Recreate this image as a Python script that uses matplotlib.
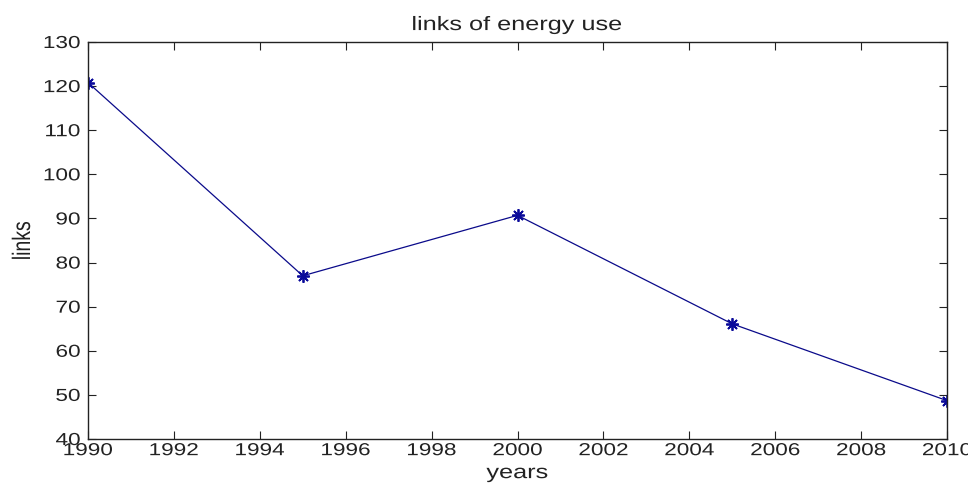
import matplotlib
matplotlib.use("Agg")
import numpy as np
import matplotlib.pyplot as plt
from matplotlib.patheffects import AbstractPathEffect
from matplotlib.transforms import Affine2D
from matplotlib.path import Path

years = [1990, 1995, 2000, 2005, 2010]
links = [120.8, 77.0, 90.7, 66.1, 48.7]
xticks = list(range(1990, 2011, 2))
yticks = list(range(40, 131, 10))


class StretchX(AbstractPathEffect):
    def __init__(self, sx=1.3, anchor='center'):
        super().__init__()
        self.sx = sx
        self.anchor = anchor

    def draw_path(self, renderer, gc, tpath, affine, rgbFace=None):
        v = tpath.vertices
        if tpath.codes is not None:
            v = v[tpath.codes != Path.CLOSEPOLY]
        if len(v) == 0:
            return
        d = affine.transform(v)
        xmin, xmax = d[:, 0].min(), d[:, 0].max()
        if self.anchor == 'right':
            a = xmax
        elif self.anchor == 'left':
            a = xmin
        else:
            a = (xmin + xmax) / 2
        t = affine + Affine2D().translate(-a, 0).scale(self.sx, 1).translate(a, 0)
        renderer.draw_path(gc, tpath, t, rgbFace)


plt.rcParams['font.family'] = ['Liberation Sans', 'DejaVu Sans']
fig = plt.figure(figsize=(9.68, 4.84), dpi=100)
ax = fig.add_axes([88/968, (484-439)/484, (947-88)/968, (439-42)/484])
ax.plot(years, links, color='#0a0a8a', linewidth=0.9, marker=(8, 2, 0), markersize=9,
        markeredgewidth=1.3, markeredgecolor='#0a0a9a', markerfacecolor='#0a0a9a')
ax.set_xlim(1990, 2010)
ax.set_ylim(40, 130)
ax.set_xticks(xticks)
ax.set_yticks(yticks)
ax.tick_params(direction='in', top=True, right=True, length=6, width=0.8,
               labelsize=12.5, colors='#222222')
ax.tick_params(axis='x', pad=3)
ax.tick_params(axis='y', pad=5.5)
for s in ax.spines.values():
    s.set_linewidth(1.0)
    s.set_color('#222222')
t = ax.set_title('links of energy use', fontsize=14, pad=8.6, color='#222222')
xl = ax.set_xlabel('years', fontsize=14, labelpad=5, color='#222222')
yl = ax.set_ylabel('links', fontsize=14, labelpad=14, color='#222222')
t.set_path_effects([StretchX(1.3)])
xl.set_path_effects([StretchX(1.3)])
yl.set_path_effects([StretchX(1.3)])
for lab in ax.get_xticklabels():
    lab.set_path_effects([StretchX(1.3)])
for lab in ax.get_yticklabels():
    lab.set_path_effects([StretchX(1.3, 'right')])
fig.savefig('out.png', dpi=100)
